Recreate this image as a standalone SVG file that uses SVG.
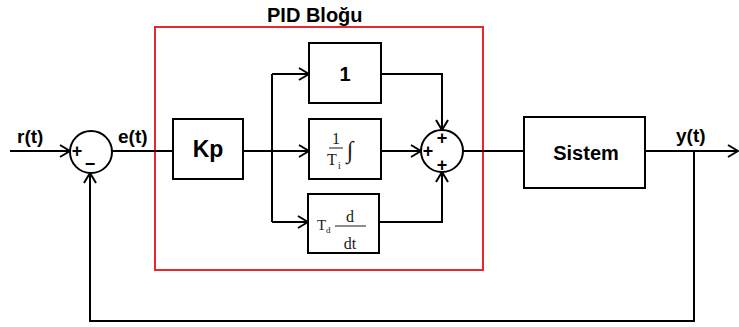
<svg xmlns="http://www.w3.org/2000/svg" width="739" height="327" viewBox="0 0 739 327">
<defs>
<marker id="arr" markerWidth="12" markerHeight="14" refX="11" refY="7" orient="auto" markerUnits="userSpaceOnUse">
<path d="M1,1 L11,7 L1,13" fill="none" stroke="#000" stroke-width="2"/>
</marker>
<style>
.ln{fill:none;stroke:#000;stroke-width:2}
.bx{fill:#fff;stroke:#000;stroke-width:2}
.lb{font-family:"Liberation Sans",Arial,sans-serif;font-weight:bold;fill:#000}
.sg{font-family:"Liberation Sans",Arial,sans-serif;font-weight:bold;font-size:18px;fill:#000;text-anchor:middle;dominant-baseline:central}
.sf{font-family:"Liberation Serif","Times New Roman",serif;fill:#1a1a1a}
</style>
</defs>
<rect width="739" height="327" fill="#fff"/>
<g id="pid-block">
<rect x="155" y="27" width="328" height="243" fill="none" stroke="#e8262b" stroke-width="2"/>
<text class="lb" x="267" y="22" font-size="20">PID Bloğu</text>
</g>
<g id="connectors">
<line class="ln" x1="10" y1="151" x2="70" y2="151" marker-end="url(#arr)"/>
<line class="ln" x1="112" y1="151" x2="173" y2="151"/>
<line class="ln" x1="243" y1="151" x2="309" y2="151" marker-end="url(#arr)"/>
<line class="ln" x1="272" y1="74" x2="272" y2="222"/>
<line class="ln" x1="272" y1="74" x2="309" y2="74" marker-end="url(#arr)"/>
<line class="ln" x1="272" y1="222" x2="308" y2="222" marker-end="url(#arr)"/>
<polyline class="ln" points="381,74 442,74 442,130" marker-end="url(#arr)"/>
<line class="ln" x1="381" y1="151" x2="421" y2="151" marker-end="url(#arr)"/>
<polyline class="ln" points="379,222 442,222 442,172" marker-end="url(#arr)"/>
<line class="ln" x1="463" y1="151" x2="524" y2="151"/>
<line class="ln" x1="645" y1="151" x2="738" y2="151" marker-end="url(#arr)"/>
<polyline class="ln" points="694,151 694,321 90,321 90,173" marker-end="url(#arr)"/>
</g>
<g id="sum1">
<circle class="bx" cx="91" cy="152" r="21"/>
<text class="sg" x="77" y="151">+</text>
<text class="sg" x="90" y="164">−</text>
</g>
<g id="labels">
<text class="lb" x="17" y="143" font-size="19">r(t)</text>
<text class="lb" x="118" y="143" font-size="19">e(t)</text>
<text class="lb" x="676" y="142" font-size="19">y(t)</text>
</g>
<g id="kp">
<rect class="bx" x="173" y="119" width="70" height="60"/>
<text class="lb" x="208" y="157" font-size="23" text-anchor="middle">Kp</text>
</g>
<g id="prop">
<rect class="bx" x="309" y="43" width="72" height="60"/>
<text class="lb" x="345" y="81" font-size="20" text-anchor="middle">1</text>
</g>
<g id="integ">
<rect class="bx" x="309" y="119" width="72" height="60"/>
<text class="sf" x="336" y="144" font-size="16" text-anchor="middle">1</text>
<line x1="329" y1="148" x2="343" y2="148" stroke="#1a1a1a" stroke-width="1"/>
<text class="sf" x="332" y="165" font-size="16" text-anchor="middle">T</text>
<text class="sf" x="338" y="169" font-size="10">i</text>
<text class="sf" x="350" y="158" font-size="24" text-anchor="middle">∫</text>
</g>
<g id="deriv">
<rect class="bx" x="308" y="194" width="71" height="59"/>
<text class="sf" x="317" y="230" font-size="15">T</text>
<text class="sf" x="326" y="233" font-size="9">d</text>
<text class="sf" x="350" y="222" font-size="16" text-anchor="middle">d</text>
<line x1="335" y1="226" x2="366" y2="226" stroke="#1a1a1a" stroke-width="1"/>
<text class="sf" x="350" y="249" font-size="16" text-anchor="middle">dt</text>
</g>
<g id="sum2">
<circle class="bx" cx="442" cy="151" r="21"/>
<text class="sg" x="442" y="138">+</text>
<text class="sg" x="428" y="151">+</text>
<text class="sg" x="442" y="165">+</text>
</g>
<g id="sistem">
<rect class="bx" x="524" y="117" width="121" height="71"/>
<text class="lb" x="586" y="160" font-size="20" text-anchor="middle">Sistem</text>
</g>
</svg>
